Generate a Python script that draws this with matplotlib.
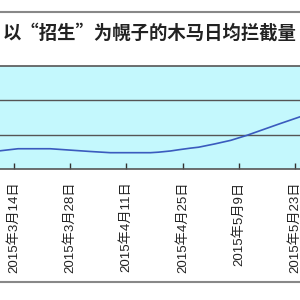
import matplotlib
matplotlib.use("Agg")
import matplotlib.pyplot as plt
from matplotlib.lines import Line2D

plt.rcParams['font.family'] = ['Liberation Sans', 'Noto Sans CJK SC']

title = "以“招生”为幌子的木马日均拦截量"
# days since 2015-03-14
days = [-3.5, 1, 9, 14, 19, 24, 29, 34, 36, 39, 41, 44, 46, 50, 54, 58, 62, 66, 71.25]
values = [53, 59, 59, 55, 51, 47.5, 47.5, 47.5, 49, 52.5, 56, 60.8, 63.5, 73, 83.5, 98, 114.5, 131, 152]
tick_days = [0, 14, 28, 42, 56, 70]
tick_labels = ["2015年3月14日", "2015年3月28日", "2015年4月11日",
               "2015年4月25日", "2015年5月9日", "2015年5月23日"]

fig = plt.figure(figsize=(3, 3), dpi=100)
fig.patch.set_facecolor("white")

ax = fig.add_axes([0, (300 - 169) / 300, 1, (169 - 66) / 300])
ax.set_facecolor("#C4F8FD")
ax.plot(days, values, color="#3A5BBE", lw=1.2)
ax.set_xlim(-3.49, 71.25)
ax.set_ylim(0, 300)
ax.set_yticks([100, 200])
ax.yaxis.grid(True, color="#555555", lw=1.0)
ax.tick_params(axis="y", left=False, labelleft=False)
ax.set_xticks(tick_days)
ax.set_xticklabels(tick_labels, rotation=90, va="top", ha="center", fontsize=9.5,
                   color="#222222")
ax.tick_params(axis="x", direction="in", length=4, width=1, color="#333333", pad=9.0)
for s in ["left", "right"]:
    ax.spines[s].set_visible(False)
for s in ["top", "bottom"]:
    ax.spines[s].set_color("#555555")
    ax.spines[s].set_linewidth(1.2)

fig.text(0.5, (300 - 33) / 300, title, fontsize=13.2, fontweight="bold",
         family=['Noto Sans CJK SC', 'DejaVu Sans'],
         ha="center", va="center", color="#222222")

fig.add_artist(Line2D([0, 1], [(300 - 12) / 300] * 2, color="#888888", lw=1.5,
                      transform=fig.transFigure))
fig.add_artist(Line2D([0, 1], [(300 - 282) / 300] * 2, color="#888888", lw=1.5,
                      transform=fig.transFigure))

fig.savefig("out.png", dpi=100)
